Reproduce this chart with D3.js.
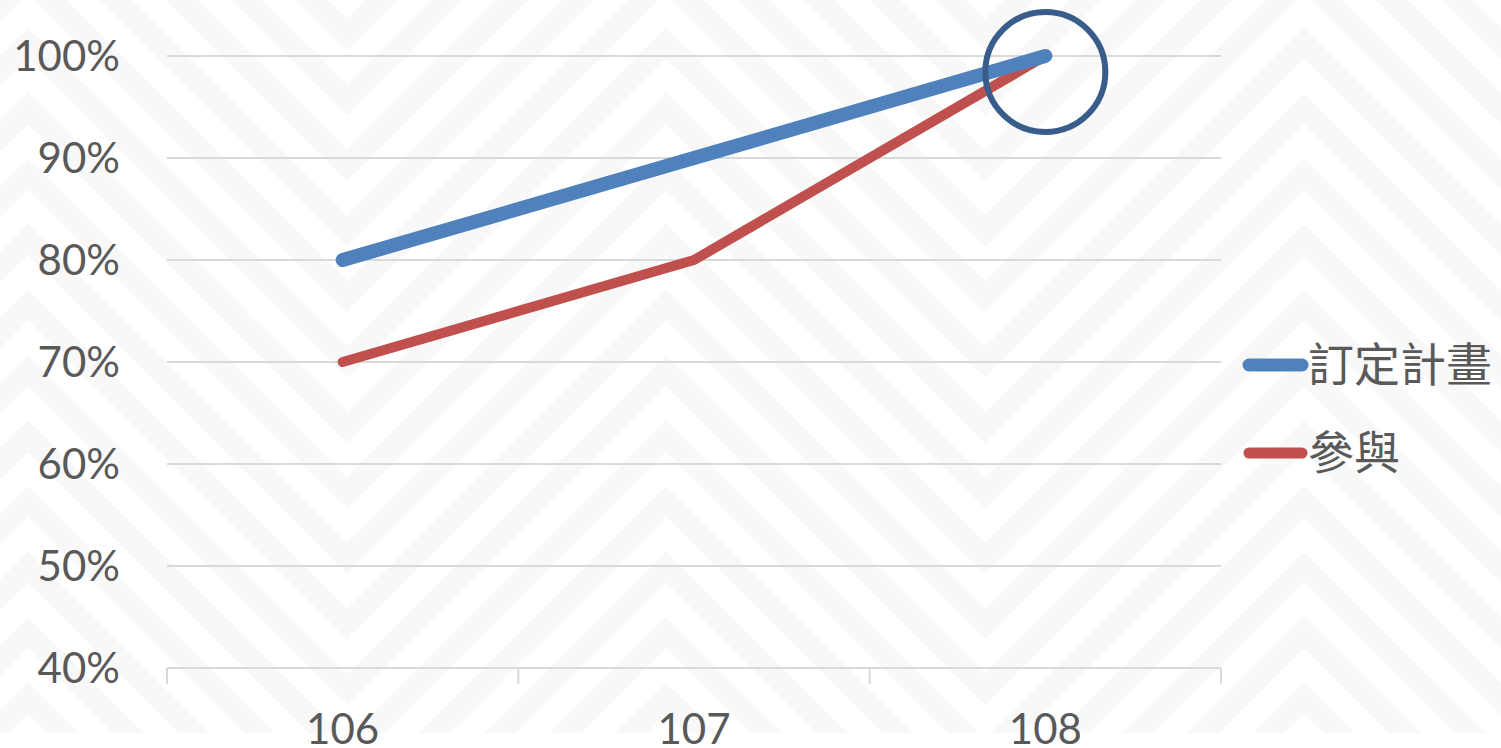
<!DOCTYPE html>
<html><head><meta charset="utf-8">
<script src="https://cdn.jsdelivr.net/npm/d3@7"></script>
<style>html,body{margin:0;padding:0;background:#fff;overflow:hidden}</style>
</head><body>
<svg id="c" width="1501" height="748"></svg>
<script>
const categories = ["106", "107", "108"];
const seriesNames = ["訂定計畫", "參與"];
const planValues = [80, 90, 100];
const joinValues = [70, 80, 100];
const yTicks = [40, 50, 60, 70, 80, 90, 100];

(function () {
const W = 1501, H = 748;
const svg = d3.select("#c");
const pLeft = 167, pRight = 1221, pTop = 56, pBottom = 668;

// background chevron pattern
const bg = svg.append("g");
const period = 638, amp = 319, x0 = 28, vstep = 65.5;
const tri = x => { let m = ((x - x0) % period + period) % period; return m <= amp ? m : period - m; };
const ptsX = d3.range(x0 - period, W + period, amp);
bg.append("clipPath").attr("id", "bgclip").append("rect").attr("x", 0).attr("y", 0).attr("width", W).attr("height", 733);
const bgg = bg.append("g").attr("clip-path", "url(#bgclip)");
for (let k = -8; k < 18; k++) {
  const base = -350 + k * vstep;
  bgg.append("path")
    .attr("d", d3.line()(ptsX.map(x => [x, base + tri(x)])))
    .attr("fill", "none").attr("stroke", "#f8f8f8").attr("stroke-width", 22);
}

const x = d3.scaleBand().domain(categories).range([pLeft, pRight]);
const y = d3.scaleLinear().domain([40, 100]).range([pBottom, pTop]);

// gridlines
svg.append("g").selectAll("line").data(yTicks).join("line")
  .attr("x1", pLeft).attr("x2", pRight)
  .attr("y1", d => y(d)).attr("y2", d => y(d))
  .attr("stroke", "#d9d9d9").attr("stroke-width", 2);

// x-axis tick marks at band boundaries
const bounds = categories.map(c => x(c)).concat([pRight]);
svg.append("g").selectAll("line").data(bounds).join("line")
  .attr("x1", d => d).attr("x2", d => d)
  .attr("y1", pBottom).attr("y2", pBottom + 16)
  .attr("stroke", "#d9d9d9").attr("stroke-width", 2);

const font = "Lato, 'Open Sans', sans-serif";
// y labels
svg.append("g").selectAll("text").data(yTicks).join("text")
  .attr("x", 120).attr("y", d => y(d) + 15)
  .attr("text-anchor", "end")
  .attr("font-family", font).attr("font-size", 42).attr("fill", "#595959")
  .text(d => d + "%");

// x labels
svg.append("g").selectAll("text").data(categories).join("text")
  .attr("x", d => x(d) + x.bandwidth() / 2).attr("y", 744)
  .attr("text-anchor", "middle")
  .attr("font-family", font).attr("font-size", 42).attr("fill", "#595959")
  .text(d => d);

const line = d3.line().x((d, i) => x(categories[i]) + x.bandwidth() / 2).y(d => y(d));
svg.append("path").attr("d", line(joinValues))
  .attr("fill", "none").attr("stroke", "#c0504d").attr("stroke-width", 10)
  .attr("stroke-linecap", "round").attr("stroke-linejoin", "round");
svg.append("path").attr("d", line(planValues))
  .attr("fill", "none").attr("stroke", "#4f81bd").attr("stroke-width", 14)
  .attr("stroke-linecap", "round").attr("stroke-linejoin", "round");

// highlight circle around 108 / 100%
svg.append("circle")
  .attr("cx", x("108") + x.bandwidth() / 2).attr("cy", y(100) + 16)
  .attr("r", 60).attr("fill", "none").attr("stroke", "#385d8a").attr("stroke-width", 6);

// legend
const colors = ["#4f81bd", "#c0504d"];
const widths = [13, 11];
const lg = svg.append("g").selectAll("g").data(seriesNames).join("g")
  .attr("transform", (d, i) => `translate(0, ${365 + i * 88})`);
lg.append("line").attr("x1", 1249).attr("x2", 1302).attr("y1", 0).attr("y2", 0)
  .attr("stroke", (d, i) => colors[i]).attr("stroke-width", (d, i) => widths[i])
  .attr("stroke-linecap", "round");
lg.append("text").attr("x", 1308).attr("y", 16)
  .attr("font-family", "'Noto Sans CJK TC', sans-serif").attr("font-size", 46).attr("fill", "#595959")
  .text(d => d);
})();
</script>
</body></html>
